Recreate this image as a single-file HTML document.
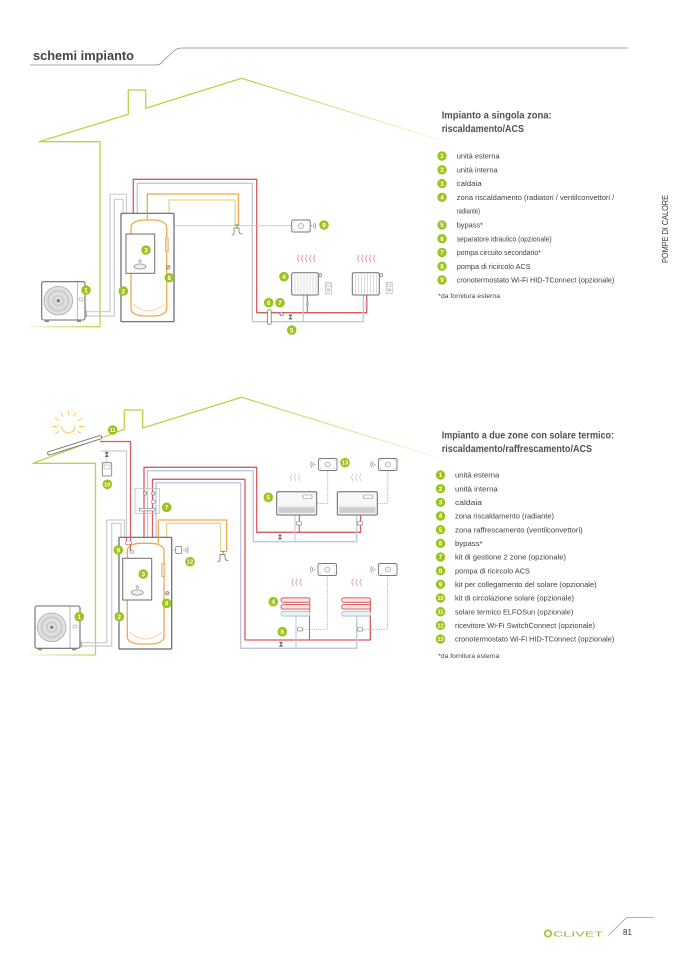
<!DOCTYPE html>
<html><head><meta charset="utf-8">
<style>
html,body{margin:0;padding:0;background:#fff;}
svg{display:block;}
text{font-family:"Liberation Sans",sans-serif;}
</style></head><body>
<svg width="678" height="959" viewBox="0 0 678 959" xmlns="http://www.w3.org/2000/svg">
<defs>
 <linearGradient id="rf1" gradientUnits="userSpaceOnUse" x1="241" y1="0" x2="440" y2="0">
  <stop offset="0" stop-color="#bcd147"/><stop offset="1" stop-color="#bcd147" stop-opacity="0.12"/>
 </linearGradient>
 <linearGradient id="gl" gradientUnits="userSpaceOnUse" x1="30" y1="0" x2="100" y2="0">
  <stop offset="0" stop-color="#bcd147" stop-opacity="0.2"/><stop offset="1" stop-color="#bcd147"/>
 </linearGradient>
 <path id="wv" d="M0,0 q1.6,-1.2 0,-2.4 q-1.6,-1.2 0,-2.4 q1.6,-1.2 0,-2.4"/>
 <g id="th">
  <rect x="0" y="0" width="18.5" height="12" rx="1.5" fill="#fff" stroke="#777" stroke-width="0.9"/>
  <circle cx="9.25" cy="6" r="2.6" fill="#f3f3f3" stroke="#999" stroke-width="0.6"/>
  <circle cx="2.2" cy="2.2" r="0.5" fill="#999"/><circle cx="16.3" cy="2.2" r="0.5" fill="#999"/>
  <circle cx="2.2" cy="9.8" r="0.5" fill="#999"/><circle cx="16.3" cy="9.8" r="0.5" fill="#999"/>
 </g>
 <g id="wr" fill="none" stroke="#888" stroke-width="0.7">
  <circle cx="0" cy="0" r="0.6" fill="#888" stroke="none"/>
  <path d="M1.5,-2 q1.4,2 0,4 M3,-3.2 q2.4,3.2 0,6.4"/>
 </g>
 <g id="wl" fill="none" stroke="#888" stroke-width="0.7">
  <circle cx="0" cy="0" r="0.6" fill="#888" stroke="none"/>
  <path d="M-1.5,-2 q-1.4,2 0,4 M-3,-3.2 q-2.4,3.2 0,6.4"/>
 </g>
 <g id="bow"><path d="M-1.8,-2.2 h3.6 l-3.6,4.4 h3.6 z" fill="#666" stroke="#666" stroke-width="0.4"/></g>
 <g id="fct" fill="none" stroke="#888" stroke-width="0.9" stroke-linecap="round">
  <path d="M-1,-7 h4 M1,-7 v3"/>
  <path d="M-2,-4 h5 v3 q0,3 3,3"/>
  <path d="M-2,-4 v5 q0,2 -2,2"/>
 </g>
</defs>

<!-- HEADER -->
<text x="33" y="60" font-size="12.5" font-weight="bold" fill="#444" textLength="101" lengthAdjust="spacingAndGlyphs">schemi impianto</text>
<path d="M30,65 H156 C160,65 162,63 164,60 L174,51 C176,49 178,48 183,48 H628" fill="none" stroke="#8a8a8a" stroke-width="0.8"/>

<!-- SIDE TEXT -->
<text transform="translate(668,229) rotate(-90)" font-size="8" fill="#333" text-anchor="middle" textLength="68" lengthAdjust="spacingAndGlyphs">POMPE DI CALORE</text>

<!-- ================= TOP DIAGRAM ================= -->
<g fill="none" stroke-linejoin="round">
 <path d="M39,141.7 L128.3,114.3 V90 H145.7 V108.3 L241.7,78.3" stroke="#bcd147" stroke-width="1.3"/>
 <path d="M241.7,78.3 L440,140" stroke="url(#rf1)" stroke-width="1.2"/>
 <path d="M39,141.7 H100 V326.7" stroke="#bcd147" stroke-width="1.3"/>
 <path d="M100,326.7 H30" stroke="url(#gl)" stroke-width="1.3"/>

 <path d="M86,311.7 H110 V194.3 H126.5 V213.3" stroke="#c8ccd2" stroke-width="1.2"/>
 <path d="M86,316 H114.3 V199.3 H123 V213.3" stroke="#c8ccd2" stroke-width="1.2"/>
 <path d="M133.3,213.3 V179.3 H256.7 V312.7 H366.7 V295" stroke="#d95a5f" stroke-width="1.3"/>
 <path d="M307.3,312.7 V295" stroke="#d95a5f" stroke-width="1.1"/>
 <path d="M137.3,213.3 V183.3 H252.3 V321.7 H363.3 V295" stroke="#bccadb" stroke-width="1.3"/>
 <path d="M303.3,321.7 V295" stroke="#bccadb" stroke-width="1.1"/>
 <path d="M147.3,220 V194 H238.3 V225" stroke="#f0a94a" stroke-width="1.3"/>
 <path d="M169,213.3 V200 H235 V225" stroke="#dcd98e" stroke-width="1.3"/>
 <path d="M174,225.7 H291.7" stroke="#c5c8cc" stroke-width="0.9"/>
</g>

<!-- outdoor unit top -->
<rect x="41.7" y="281.7" width="43.3" height="38.3" rx="2" fill="#fff" stroke="#6d6d6d" stroke-width="1.1"/>
<line x1="77.3" y1="282.3" x2="77.3" y2="319.5" stroke="#999" stroke-width="0.7"/>
<circle cx="58.3" cy="300.7" r="14.3" fill="#e0e0e0" stroke="#aaa" stroke-width="0.8"/>
<circle cx="58.3" cy="300.7" r="10" fill="none" stroke="#cbcbcb" stroke-width="2"/>
<circle cx="58.3" cy="300.7" r="5" fill="none" stroke="#cecece" stroke-width="2"/>
<circle cx="58.3" cy="300.7" r="1.6" fill="#777"/>
<rect x="79" y="298" width="4" height="3" rx="1" fill="#fff" stroke="#888" stroke-width="0.5"/>
<rect x="45" y="320" width="4" height="2" fill="#888"/><rect x="77" y="320" width="4" height="2" fill="#888"/>
<rect x="85" y="310.5" width="2" height="6.5" fill="#aaa"/>

<!-- indoor unit top -->
<rect x="121" y="213.3" width="53" height="108.4" rx="1" fill="#fff" stroke="#666" stroke-width="1.2"/>
<rect x="131" y="220" width="35.7" height="96" rx="13" ry="7" fill="none" stroke="#f0a94a" stroke-width="1.3"/>
<path d="M133,304 q15,14 31.7,0" fill="none" stroke="#f6c98a" stroke-width="0.8"/>
<path d="M147.3,213.3 V220" stroke="#f0a94a" stroke-width="1.3"/>
<rect x="126" y="234" width="28.7" height="39.3" fill="#fff" stroke="#6d6d6d" stroke-width="1"/>
<ellipse cx="140" cy="266.5" rx="6" ry="2.6" fill="#eee" stroke="#888" stroke-width="0.7"/>
<circle cx="140" cy="261" r="1.2" fill="none" stroke="#888" stroke-width="0.6"/>
<rect x="165.3" y="238" width="3" height="13.7" fill="#f6d9a8" stroke="#d8a55a" stroke-width="0.6"/>
<circle cx="168.3" cy="267.3" r="1.7" fill="#fff" stroke="#777" stroke-width="0.7"/>
<line x1="167" y1="268.6" x2="169.6" y2="266" stroke="#777" stroke-width="0.6"/>

<use href="#fct" x="236" y="232"/>

<use href="#th" x="291.7" y="220"/>
<use href="#wr" x="311.5" y="225.8"/>

<rect x="267.6" y="309.5" width="3.6" height="15" rx="1.8" fill="#fff" stroke="#777" stroke-width="0.8"/>
<circle cx="281.7" cy="314" r="1.9" fill="#fff" stroke="#777" stroke-width="0.7"/>
<line x1="280.3" y1="315.4" x2="283.1" y2="312.6" stroke="#777" stroke-width="0.6"/>
<use href="#bow" x="290.5" y="317"/>

<g stroke="#ec8f8f" stroke-width="0.8" fill="none">
 <use href="#wv" x="298" y="262"/><use href="#wv" x="302" y="262"/><use href="#wv" x="306" y="262"/><use href="#wv" x="310" y="262"/><use href="#wv" x="314" y="262"/>
 <use href="#wv" x="358" y="262"/><use href="#wv" x="362" y="262"/><use href="#wv" x="366" y="262"/><use href="#wv" x="370" y="262"/><use href="#wv" x="374" y="262"/>
</g>
<g>
 <rect x="291.7" y="272.7" width="26.6" height="22.3" rx="1.5" fill="#fff" stroke="#6d6d6d" stroke-width="1"/>
 <path d="M295,274.5 V293.5 M298,274.5 V293.5 M301,274.5 V293.5 M304,274.5 V293.5 M307,274.5 V293.5 M310,274.5 V293.5 M313,274.5 V293.5 M316,274.5 V293.5" stroke="#c4c4c4" stroke-width="0.6"/>
 <circle cx="320.3" cy="275" r="1.5" fill="#fff" stroke="#777" stroke-width="0.7"/>
 <rect x="325.5" y="282.5" width="6" height="10.8" fill="#fff" stroke="#aaa" stroke-width="0.6"/>
 <rect x="326.7" y="284" width="3.6" height="2.5" fill="none" stroke="#999" stroke-width="0.4"/>
 <rect x="326.7" y="288.5" width="3.6" height="3" fill="#ccc"/>
 <rect x="352.3" y="272.7" width="27" height="22.3" rx="1.5" fill="#fff" stroke="#6d6d6d" stroke-width="1"/>
 <path d="M355.5,274.5 V293.5 M358.5,274.5 V293.5 M361.5,274.5 V293.5 M364.5,274.5 V293.5 M367.5,274.5 V293.5 M370.5,274.5 V293.5 M373.5,274.5 V293.5 M376.5,274.5 V293.5" stroke="#c4c4c4" stroke-width="0.6"/>
 <circle cx="381.3" cy="275" r="1.5" fill="#fff" stroke="#777" stroke-width="0.7"/>
 <rect x="386.2" y="282.5" width="6" height="10.8" fill="#fff" stroke="#aaa" stroke-width="0.6"/>
 <rect x="387.4" y="284" width="3.6" height="2.5" fill="none" stroke="#999" stroke-width="0.4"/>
 <rect x="387.4" y="288.5" width="3.6" height="3" fill="#ccc"/>
 <circle cx="307.3" cy="304" r="1.2" fill="#fff" stroke="#888" stroke-width="0.6"/>
 <circle cx="366.7" cy="304" r="1.2" fill="#fff" stroke="#888" stroke-width="0.6"/>
</g>

<g font-size="6.4" font-weight="bold" fill="#fff" text-anchor="middle">
 <circle cx="86" cy="290" r="4.8" fill="#9dc41e"/><text x="86" y="292.3">1</text>
 <circle cx="123.3" cy="291" r="4.8" fill="#9dc41e"/><text x="123.3" y="293.3">2</text>
 <circle cx="146" cy="250" r="4.8" fill="#9dc41e"/><text x="146" y="252.3">3</text>
 <circle cx="284" cy="276.7" r="4.8" fill="#9dc41e"/><text x="284" y="279">4</text>
 <circle cx="291.7" cy="330" r="4.8" fill="#9dc41e"/><text x="291.7" y="332.3">5</text>
 <circle cx="268.7" cy="302.7" r="4.8" fill="#9dc41e"/><text x="268.7" y="305">6</text>
 <circle cx="280" cy="302.7" r="4.8" fill="#9dc41e"/><text x="280" y="305">7</text>
 <circle cx="169.3" cy="277.7" r="4.8" fill="#9dc41e"/><text x="169.3" y="280">8</text>
 <circle cx="324" cy="225" r="4.8" fill="#9dc41e"/><text x="324" y="227.3">9</text>
</g>

<!-- ================= TOP LEGEND ================= -->
<text x="441.7" y="118.6" font-size="10" font-weight="bold" fill="#505050" textLength="110" lengthAdjust="spacingAndGlyphs">Impianto a singola zona:</text>
<text x="441.7" y="132" font-size="10" font-weight="bold" fill="#505050" textLength="82.3" lengthAdjust="spacingAndGlyphs">riscaldamento/ACS</text>
<g>
 <g fill="#9dc41e">
  <circle cx="442" cy="156" r="4.7"/><circle cx="442" cy="169.8" r="4.7"/><circle cx="442" cy="183.6" r="4.7"/>
  <circle cx="442" cy="197.3" r="4.7"/><circle cx="442" cy="224.9" r="4.7"/><circle cx="442" cy="238.7" r="4.7"/>
  <circle cx="442" cy="252.4" r="4.7"/><circle cx="442" cy="266.2" r="4.7"/><circle cx="442" cy="280" r="4.7"/>
 </g>
 <g font-size="6.3" font-weight="bold" fill="#fff" text-anchor="middle">
  <text x="442" y="158.2">1</text><text x="442" y="172">2</text><text x="442" y="185.8">3</text>
  <text x="442" y="199.5">4</text><text x="442" y="227.1">5</text><text x="442" y="240.9">6</text>
  <text x="442" y="254.6">7</text><text x="442" y="268.4">8</text><text x="442" y="282.2">9</text>
 </g>
 <g font-size="7.5" fill="#3f3f3f">
  <text x="456.7" y="158.6" textLength="43" lengthAdjust="spacingAndGlyphs">unità esterna</text>
  <text x="456.7" y="172.4" textLength="41" lengthAdjust="spacingAndGlyphs">unità interna</text>
  <text x="456.7" y="186.2" textLength="25" lengthAdjust="spacingAndGlyphs">caldaia</text>
  <text x="456.7" y="199.9" textLength="157.6" lengthAdjust="spacingAndGlyphs">zona riscaldamento (radiatori / ventilconvettori /</text>
  <text x="456.7" y="213.7" textLength="23.3" lengthAdjust="spacingAndGlyphs">radiante)</text>
  <text x="456.7" y="227.5" textLength="26.3" lengthAdjust="spacingAndGlyphs">bypass*</text>
  <text x="456.7" y="241.3" textLength="95" lengthAdjust="spacingAndGlyphs">separatore idraulico (opzionale)</text>
  <text x="456.7" y="255" textLength="84.3" lengthAdjust="spacingAndGlyphs">pompa circuito secondario*</text>
  <text x="456.7" y="268.8" textLength="74" lengthAdjust="spacingAndGlyphs">pompa di ricircolo ACS</text>
  <text x="456.7" y="282.6" textLength="157.6" lengthAdjust="spacingAndGlyphs">cronotermostato Wi-Fi HID-TConnect (opzionale)</text>
 </g>
 <text x="438.3" y="298" font-size="6.3" fill="#444" textLength="61.7" lengthAdjust="spacingAndGlyphs">*da fornitura esterna</text>
</g>

<!-- ================= BOTTOM DIAGRAM ================= -->
<g fill="none" stroke-linejoin="round">
 <path d="M32.7,463.3 L124.3,429.3 V410 H142.7 V428 L241.7,397.3" stroke="#bcd147" stroke-width="1.3"/>
 <path d="M241.7,397.3 L440,458.3" stroke="url(#rf1)" stroke-width="1.2"/>
 <path d="M32.7,463.3 H95.5 V655" stroke="#bcd147" stroke-width="1.3"/>
 <path d="M95.5,655 H30" stroke="url(#gl)" stroke-width="1.3"/>
</g>

<g stroke="#f3c53c" stroke-width="0.9" fill="none" stroke-linecap="round">
 <path d="M61.8,426.5 a6.5,6.5 0 0 0 13,0"/>
 <path d="M57,426.5 h-4 M58.5,420.5 l-3.4,-2 M63,416.3 l-2,-3.4 M68.3,415 v-4 M73.6,416.3 l2,-3.4 M78,420.5 l3.4,-2 M79.6,426.5 h4 M58.8,431.5 l-3.2,2 M77.8,431.5 l3.2,2"/>
</g>

<line x1="49.3" y1="453.3" x2="100" y2="437.3" stroke="#777" stroke-width="4.4" stroke-linecap="round"/>
<line x1="49.3" y1="453.3" x2="100" y2="437.3" stroke="#fff" stroke-width="2.4" stroke-linecap="round"/>

<g fill="none" stroke-linejoin="round">
 <path d="M100,441.5 H130.5 V537.3" stroke="#d95a5f" stroke-width="1.3"/>
 <path d="M101,451 H126.5 V537.3" stroke="#c8ccd2" stroke-width="1.2"/>
 <path d="M106.7,451 V462.7" stroke="#c8ccd2" stroke-width="1"/>
 <path d="M81,642.7 H106.7 V520 H124.5 V537.3" stroke="#c8ccd2" stroke-width="1.2"/>
 <path d="M81,646 H111.7 V523.3 H121 V537.3" stroke="#c8ccd2" stroke-width="1.2"/>
 <path d="M144,537.3 V467.3 H256.7 V532.3 H360.5 V515" stroke="#d95a5f" stroke-width="1.3"/>
 <path d="M299.3,532.3 V515" stroke="#d95a5f" stroke-width="1.1"/>
 <path d="M147.5,537.3 V470.7 H253.3 V541.7 H356.7 V515" stroke="#bccadb" stroke-width="1.3"/>
 <path d="M295,541.7 V515" stroke="#bccadb" stroke-width="1.1"/>
 <path d="M152.5,537.3 V479.3 H245 V640 H370.3 V600" stroke="#d95a5f" stroke-width="1.3"/>
 <path d="M309.5,600 V640" stroke="#d95a5f" stroke-width="1.1"/>
 <path d="M156,537.3 V482.7 H240.7 V648.3 H356.7 V616.5" stroke="#bccadb" stroke-width="1.3"/>
 <path d="M296,616.5 V648.3" stroke="#bccadb" stroke-width="1.1"/>
 <path d="M158.3,543.3 V520 H226.7 V552" stroke="#f0a94a" stroke-width="1.3"/>
 <path d="M166.7,537.3 V523.3 H220.5 V552" stroke="#dcd98e" stroke-width="1.3"/>
</g>

<use href="#bow" x="106.7" y="454.5"/>
<rect x="102.3" y="462.7" width="9.4" height="13.3" rx="1" fill="#fff" stroke="#777" stroke-width="0.8"/>
<rect x="104" y="465" width="6" height="4" fill="none" stroke="#999" stroke-width="0.5"/>

<rect x="135" y="488.3" width="24.3" height="25" fill="none" stroke="#bbb" stroke-width="0.8"/>
<g fill="#fff" stroke="#777" stroke-width="0.6">
 <circle cx="145" cy="493.5" r="1.7"/><circle cx="153.3" cy="493.5" r="1.7"/>
 <circle cx="153.3" cy="501.7" r="1.9"/>
 <rect x="139.3" y="508.3" width="15.7" height="2.6"/>
</g>
<path d="M143.8,494.7 l2.4,-2.4 M152.1,494.7 l2.4,-2.4" stroke="#777" stroke-width="0.5"/>

<rect x="35" y="606" width="45" height="42.3" rx="2" fill="#fff" stroke="#6d6d6d" stroke-width="1.1"/>
<line x1="70" y1="606.6" x2="70" y2="647.7" stroke="#999" stroke-width="0.7"/>
<circle cx="51.7" cy="627.3" r="14.3" fill="#e0e0e0" stroke="#aaa" stroke-width="0.8"/>
<circle cx="51.7" cy="627.3" r="10" fill="none" stroke="#cbcbcb" stroke-width="2"/>
<circle cx="51.7" cy="627.3" r="5" fill="none" stroke="#cecece" stroke-width="2"/>
<circle cx="51.7" cy="627.3" r="1.6" fill="#777"/>
<rect x="73" y="625" width="4" height="3" rx="1" fill="#fff" stroke="#888" stroke-width="0.5"/>
<rect x="38" y="648.3" width="4" height="2" fill="#888"/><rect x="72" y="648.3" width="4" height="2" fill="#888"/>
<rect x="80" y="641.5" width="2" height="6" fill="#aaa"/>

<rect x="119" y="537.3" width="52.7" height="111.7" rx="1" fill="#fff" stroke="#666" stroke-width="1.2"/>
<rect x="127.3" y="543.3" width="36.7" height="100.7" rx="13" ry="7" fill="none" stroke="#f0a94a" stroke-width="1.3"/>
<path d="M129.5,632 q16,14 32.5,0" fill="none" stroke="#f6c98a" stroke-width="0.8"/>
<path d="M130.5,537.3 V552 M126.5,537.3 V545" stroke="#d95a5f" stroke-width="1.1"/>
<path d="M158.3,537.3 V543.3" stroke="#f0a94a" stroke-width="1.3"/>
<rect x="125.5" y="541" width="6" height="3.4" rx="1" fill="#fff" stroke="#888" stroke-width="0.6"/>
<circle cx="131.7" cy="551.7" r="1.6" fill="#fff" stroke="#777" stroke-width="0.6"/>
<rect x="122.7" y="558.3" width="29" height="41.7" fill="#fff" stroke="#6d6d6d" stroke-width="1"/>
<ellipse cx="137.2" cy="592.5" rx="6" ry="2.6" fill="#eee" stroke="#888" stroke-width="0.7"/>
<circle cx="137.2" cy="587" r="1.2" fill="none" stroke="#888" stroke-width="0.6"/>
<rect x="161.7" y="563.3" width="3.3" height="13.4" fill="#f6d9a8" stroke="#d8a55a" stroke-width="0.6"/>
<circle cx="167.3" cy="593.3" r="1.7" fill="#fff" stroke="#777" stroke-width="0.7"/>
<line x1="166" y1="594.6" x2="168.6" y2="592" stroke="#777" stroke-width="0.6"/>

<line x1="171.7" y1="550" x2="175.7" y2="550" stroke="#aaa" stroke-width="0.7"/>
<rect x="175.7" y="546.5" width="6" height="7" rx="1" fill="#fff" stroke="#777" stroke-width="0.7"/>
<use href="#wr" x="184" y="550"/>

<use href="#fct" x="222" y="558.5"/>

<g stroke="#c3d0de" stroke-width="0.8" fill="none">
 <use href="#wv" x="291" y="481"/><use href="#wv" x="295" y="481"/><use href="#wv" x="299" y="481"/>
 <use href="#wv" x="352" y="481"/><use href="#wv" x="356" y="481"/><use href="#wv" x="360" y="481"/>
</g>
<use href="#th" x="318.5" y="458.5"/>
<use href="#wl" x="315" y="464.5"/>
<use href="#th" x="378.5" y="458.5"/>
<use href="#wl" x="375" y="464.5"/>
<path d="M327.8,470.5 V503.3 H316.7 M387.8,470.5 V503.3 H377.3" fill="none" stroke="#999" stroke-width="0.7" stroke-dasharray="1.2,1"/>
<g>
 <rect x="276.7" y="491.7" width="40" height="23.3" rx="1.5" fill="#f7f7f7" stroke="#666" stroke-width="1"/>
 <rect x="278.5" y="506.5" width="36.4" height="6.5" fill="#ddd"/>
 <path d="M278.5,508.3 H314.9 M278.5,510.2 H314.9 M278.5,512 H314.9" stroke="#a9a9a9" stroke-width="0.5"/>
 <rect x="303" y="495" width="9" height="3.5" rx="0.8" fill="#fff" stroke="#888" stroke-width="0.6"/>
 <rect x="337.3" y="491.7" width="40" height="23.3" rx="1.5" fill="#f7f7f7" stroke="#666" stroke-width="1"/>
 <rect x="339.1" y="506.5" width="36.4" height="6.5" fill="#ddd"/>
 <path d="M339.1,508.3 H375.5 M339.1,510.2 H375.5 M339.1,512 H375.5" stroke="#a9a9a9" stroke-width="0.5"/>
 <rect x="363.6" y="495" width="9" height="3.5" rx="0.8" fill="#fff" stroke="#888" stroke-width="0.6"/>
</g>
<g fill="#fff" stroke="#777" stroke-width="0.6">
 <rect x="296.5" y="521.5" width="5" height="3.6" rx="1"/>
 <rect x="357.5" y="521.5" width="5" height="3.6" rx="1"/>
</g>
<use href="#bow" x="280" y="537"/>

<g stroke="#ec8f8f" stroke-width="0.8" fill="none">
 <use href="#wv" x="292.5" y="586"/><use href="#wv" x="296.5" y="586"/><use href="#wv" x="300.5" y="586"/>
 <use href="#wv" x="352.5" y="586"/><use href="#wv" x="356.5" y="586"/><use href="#wv" x="360.5" y="586"/>
</g>
<use href="#th" x="318" y="563.5"/>
<use href="#wl" x="314.5" y="569.5"/>
<use href="#th" x="378.5" y="563.5"/>
<use href="#wl" x="375" y="569.5"/>
<path d="M327.2,575.5 V629.3 H302 M387.7,575.5 V629.3 H362" fill="none" stroke="#999" stroke-width="0.7" stroke-dasharray="1.2,1"/>
<g stroke-width="1.1">
 <rect x="281" y="597.8" width="29" height="4.5" rx="2.2" fill="#fbe6e6" stroke="#e06a6d"/>
 <rect x="281" y="604.6" width="29" height="4.5" rx="2.2" fill="#fbe6e6" stroke="#e06a6d"/>
 <rect x="281" y="611.6" width="29" height="4.5" rx="2.2" fill="#eef2f7" stroke="#b8c8da"/>
 <rect x="341.7" y="597.8" width="29" height="4.5" rx="2.2" fill="#fbe6e6" stroke="#e06a6d"/>
 <rect x="341.7" y="604.6" width="29" height="4.5" rx="2.2" fill="#fbe6e6" stroke="#e06a6d"/>
 <rect x="341.7" y="611.6" width="29" height="4.5" rx="2.2" fill="#eef2f7" stroke="#b8c8da"/>
</g>
<g fill="#fff" stroke="#777" stroke-width="0.6">
 <rect x="297.5" y="627.5" width="5" height="3.6" rx="1"/>
 <rect x="357.5" y="627.5" width="5" height="3.6" rx="1"/>
</g>
<use href="#bow" x="281" y="644.3"/>

<g font-size="6.4" font-weight="bold" fill="#fff" text-anchor="middle">
 <circle cx="79.3" cy="616.7" r="4.8" fill="#9dc41e"/><text x="79.3" y="619">1</text>
 <circle cx="119.3" cy="616.7" r="4.8" fill="#9dc41e"/><text x="119.3" y="619">2</text>
 <circle cx="143.3" cy="574" r="4.8" fill="#9dc41e"/><text x="143.3" y="576.3">3</text>
 <circle cx="273.3" cy="601.7" r="4.8" fill="#9dc41e"/><text x="273.3" y="604">4</text>
 <circle cx="268.3" cy="497.3" r="4.8" fill="#9dc41e"/><text x="268.3" y="499.6">5</text>
 <circle cx="282.3" cy="631.7" r="4.8" fill="#9dc41e"/><text x="282.3" y="634">6</text>
 <circle cx="166.7" cy="507.3" r="4.8" fill="#9dc41e"/><text x="166.7" y="509.6">7</text>
 <circle cx="166.7" cy="603.3" r="4.8" fill="#9dc41e"/><text x="166.7" y="605.6">8</text>
 <circle cx="118.3" cy="550" r="4.8" fill="#9dc41e"/><text x="118.3" y="552.3">9</text>
 <circle cx="107.3" cy="484.3" r="4.8" fill="#9dc41e"/><text x="107.3" y="486.3" font-size="5.6">10</text>
 <circle cx="112.7" cy="430" r="4.8" fill="#9dc41e"/><text x="112.7" y="432" font-size="5.6">11</text>
 <circle cx="190" cy="561.7" r="4.8" fill="#9dc41e"/><text x="190" y="563.7" font-size="5.6">12</text>
 <circle cx="345" cy="462.7" r="4.8" fill="#9dc41e"/><text x="345" y="464.7" font-size="5.6">13</text>
</g>

<!-- ================= BOTTOM LEGEND ================= -->
<text x="441.7" y="438.6" font-size="10" font-weight="bold" fill="#505050" textLength="172.3" lengthAdjust="spacingAndGlyphs">Impianto a due zone con solare termico:</text>
<text x="441.7" y="452" font-size="10" font-weight="bold" fill="#505050" textLength="150.3" lengthAdjust="spacingAndGlyphs">riscaldamento/raffrescamento/ACS</text>
<g fill="#9dc41e">
 <circle cx="440.5" cy="475" r="4.7"/><circle cx="440.5" cy="488.7" r="4.7"/><circle cx="440.5" cy="502.3" r="4.7"/>
 <circle cx="440.5" cy="516" r="4.7"/><circle cx="440.5" cy="529.7" r="4.7"/><circle cx="440.5" cy="543.3" r="4.7"/>
 <circle cx="440.5" cy="557" r="4.7"/><circle cx="440.5" cy="570.7" r="4.7"/><circle cx="440.5" cy="584.3" r="4.7"/>
 <circle cx="440.5" cy="598" r="4.7"/><circle cx="440.5" cy="611.7" r="4.7"/><circle cx="440.5" cy="625.3" r="4.7"/>
 <circle cx="440.5" cy="639" r="4.7"/>
</g>
<g font-size="6.3" font-weight="bold" fill="#fff" text-anchor="middle">
 <text x="440.5" y="477.2">1</text><text x="440.5" y="490.9">2</text><text x="440.5" y="504.5">3</text>
 <text x="440.5" y="518.2">4</text><text x="440.5" y="531.9">5</text><text x="440.5" y="545.5">6</text>
 <text x="440.5" y="559.2">7</text><text x="440.5" y="572.9">8</text><text x="440.5" y="586.5">9</text>
 <text x="440.5" y="600" font-size="5.4">10</text><text x="440.5" y="613.7" font-size="5.4">11</text>
 <text x="440.5" y="627.3" font-size="5.4">12</text><text x="440.5" y="641" font-size="5.4">13</text>
</g>
<g font-size="7.5" fill="#3f3f3f">
 <text x="455" y="477.6" textLength="44.3" lengthAdjust="spacingAndGlyphs">unità esterna</text>
 <text x="455" y="491.3" textLength="42.7" lengthAdjust="spacingAndGlyphs">unità interna</text>
 <text x="455" y="504.9" textLength="27" lengthAdjust="spacingAndGlyphs">caldaia</text>
 <text x="455" y="518.6" textLength="99" lengthAdjust="spacingAndGlyphs">zona riscaldamento (radiante)</text>
 <text x="455" y="532.3" textLength="127.7" lengthAdjust="spacingAndGlyphs">zona raffrescamento (ventilconvettori)</text>
 <text x="455" y="545.9" textLength="27.5" lengthAdjust="spacingAndGlyphs">bypass*</text>
 <text x="455" y="559.6" textLength="111" lengthAdjust="spacingAndGlyphs">kit di gestione 2 zone (opzionale)</text>
 <text x="455" y="573.3" textLength="75" lengthAdjust="spacingAndGlyphs">pompa di ricircolo ACS</text>
 <text x="455" y="586.9" textLength="141.7" lengthAdjust="spacingAndGlyphs">kit per collegamento del solare (opzionale)</text>
 <text x="455" y="600.6" textLength="119" lengthAdjust="spacingAndGlyphs">kit di circolazione solare (opzionale)</text>
 <text x="455" y="614.3" textLength="118.3" lengthAdjust="spacingAndGlyphs">solare termico ELFOSun (opzionale)</text>
 <text x="455" y="627.9" textLength="140" lengthAdjust="spacingAndGlyphs">ricevitore Wi-Fi SwitchConnect (opzionale)</text>
 <text x="455" y="641.6" textLength="159.3" lengthAdjust="spacingAndGlyphs">cronotermostato Wi-Fi HID-TConnect (opzionale)</text>
</g>
<text x="438.3" y="658" font-size="6.3" fill="#444" textLength="61" lengthAdjust="spacingAndGlyphs">*da fornitura esterna</text>

<!-- ================= FOOTER ================= -->
<circle cx="548" cy="933.5" r="3.2" fill="none" stroke="#a9c23f" stroke-width="1.8"/>
<text x="553" y="936.3" font-size="7.5" fill="#9db040" textLength="50" lengthAdjust="spacingAndGlyphs">CLIVET</text>
<path d="M608.3,935.5 L625,919 C626,918 627,917.5 629,917.5 H654" fill="none" stroke="#999" stroke-width="0.8"/>
<text x="623" y="935" font-size="8" fill="#333">81</text>
</svg>
</body></html>
